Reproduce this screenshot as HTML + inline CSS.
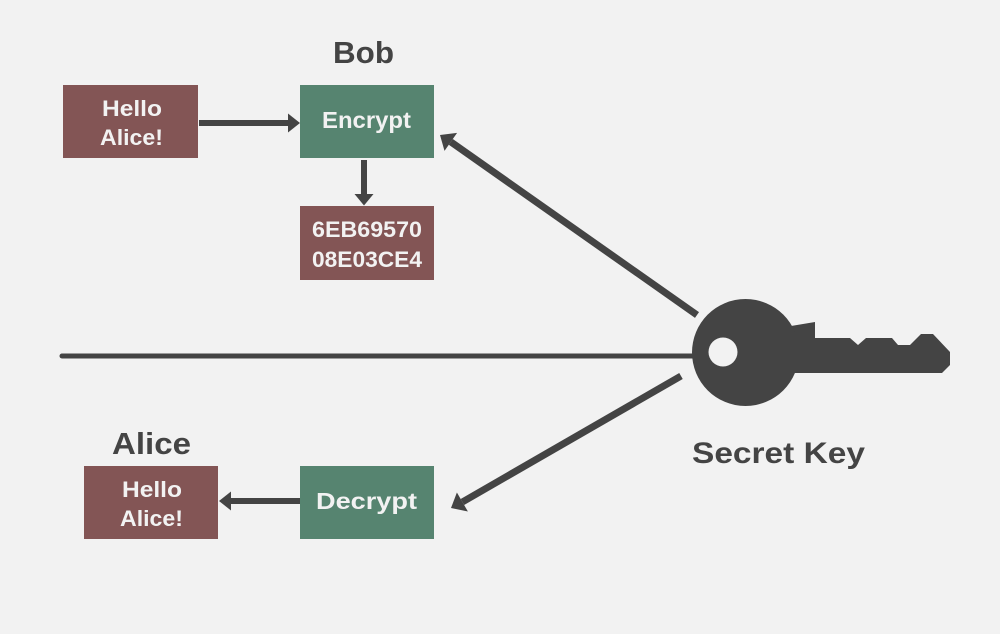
<!DOCTYPE html>
<html>
<head>
<meta charset="utf-8">
<style>
  html, body { margin: 0; padding: 0; background: #f2f2f2; }
  svg { display: block; }
  text { font-family: "Liberation Sans", "DejaVu Sans", sans-serif; font-weight: bold; }
</style>
</head>
<body>
<svg width="1000" height="634" viewBox="0 0 1000 634" xmlns="http://www.w3.org/2000/svg">
  <rect x="0" y="0" width="1000" height="634" fill="#f2f2f2"/>

  <!-- Horizontal line -->
  <line x1="62" y1="356" x2="700" y2="356" stroke="#444444" stroke-width="5" stroke-linecap="round"/>

  <!-- Boxes -->
  <rect x="63" y="85" width="135" height="73" fill="#835555"/>
  <rect x="300" y="85" width="134" height="73" fill="#568470"/>
  <rect x="300" y="206" width="134" height="74" fill="#835555"/>
  <rect x="84" y="466" width="134" height="73" fill="#835555"/>
  <rect x="300" y="466" width="134" height="73" fill="#568470"/>

  <!-- Arrow Hello -> Encrypt -->
  <line x1="199" y1="123" x2="290" y2="123" stroke="#444444" stroke-width="6"/>
  <polygon points="288,113.5 300,123 288,132.5" fill="#444444"/>

  <!-- Arrow Encrypt -> cipher -->
  <line x1="364" y1="160" x2="364" y2="196" stroke="#444444" stroke-width="6"/>
  <polygon points="354.5,194 364,205.5 373.5,194" fill="#444444"/>

  <!-- Arrow Decrypt -> Hello -->
  <line x1="300" y1="501" x2="229" y2="501" stroke="#444444" stroke-width="6"/>
  <polygon points="231,491.5 219,501 231,510.5" fill="#444444"/>

  <!-- Diagonal arrow key -> Encrypt -->
  <line x1="697" y1="315" x2="450.8" y2="141.9" stroke="#444444" stroke-width="7"/>
  <polygon points="440,135 457.1,132.9 444.5,150.9" fill="#444444"/>

  <!-- Diagonal arrow key -> Decrypt -->
  <line x1="681" y1="376" x2="462.4" y2="502" stroke="#444444" stroke-width="7"/>
  <polygon points="451,508 467.9,511.5 456.9,492.5" fill="#444444"/>

  <!-- Key -->
  <polygon points="785,327 815,322 815,338 850,338 858,345 866,338 892,338 898,345 910,345 921,334 933,334 950,352 950,365 942,373 785,373" fill="#444444"/>
  <circle cx="745.5" cy="352.5" r="53.5" fill="#444444"/>
  <circle cx="723" cy="352" r="14.5" fill="#f2f2f2"/>

  <!-- Labels -->
  <text x="333" y="63" font-size="31" fill="#444444" textLength="61" lengthAdjust="spacingAndGlyphs">Bob</text>
  <text x="112" y="454" font-size="31" fill="#444444" textLength="79" lengthAdjust="spacingAndGlyphs">Alice</text>
  <text x="692" y="463" font-size="30" fill="#444444" textLength="173" lengthAdjust="spacingAndGlyphs">Secret Key</text>

  <text x="102" y="116" font-size="22" fill="#f2f2f2" textLength="60" lengthAdjust="spacingAndGlyphs">Hello</text>
  <text x="100" y="145" font-size="22" fill="#f2f2f2" textLength="63" lengthAdjust="spacingAndGlyphs">Alice!</text>

  <text x="322" y="128" font-size="23" fill="#f2f2f2" textLength="89" lengthAdjust="spacingAndGlyphs">Encrypt</text>

  <text x="312" y="237" font-size="22" fill="#f2f2f2" textLength="110" lengthAdjust="spacingAndGlyphs">6EB69570</text>
  <text x="312" y="267" font-size="22" fill="#f2f2f2" textLength="110" lengthAdjust="spacingAndGlyphs">08E03CE4</text>

  <text x="122" y="497" font-size="22" fill="#f2f2f2" textLength="60" lengthAdjust="spacingAndGlyphs">Hello</text>
  <text x="120" y="526" font-size="22" fill="#f2f2f2" textLength="63" lengthAdjust="spacingAndGlyphs">Alice!</text>

  <text x="316" y="509" font-size="23" fill="#f2f2f2" textLength="101" lengthAdjust="spacingAndGlyphs">Decrypt</text>
</svg>
</body>
</html>
